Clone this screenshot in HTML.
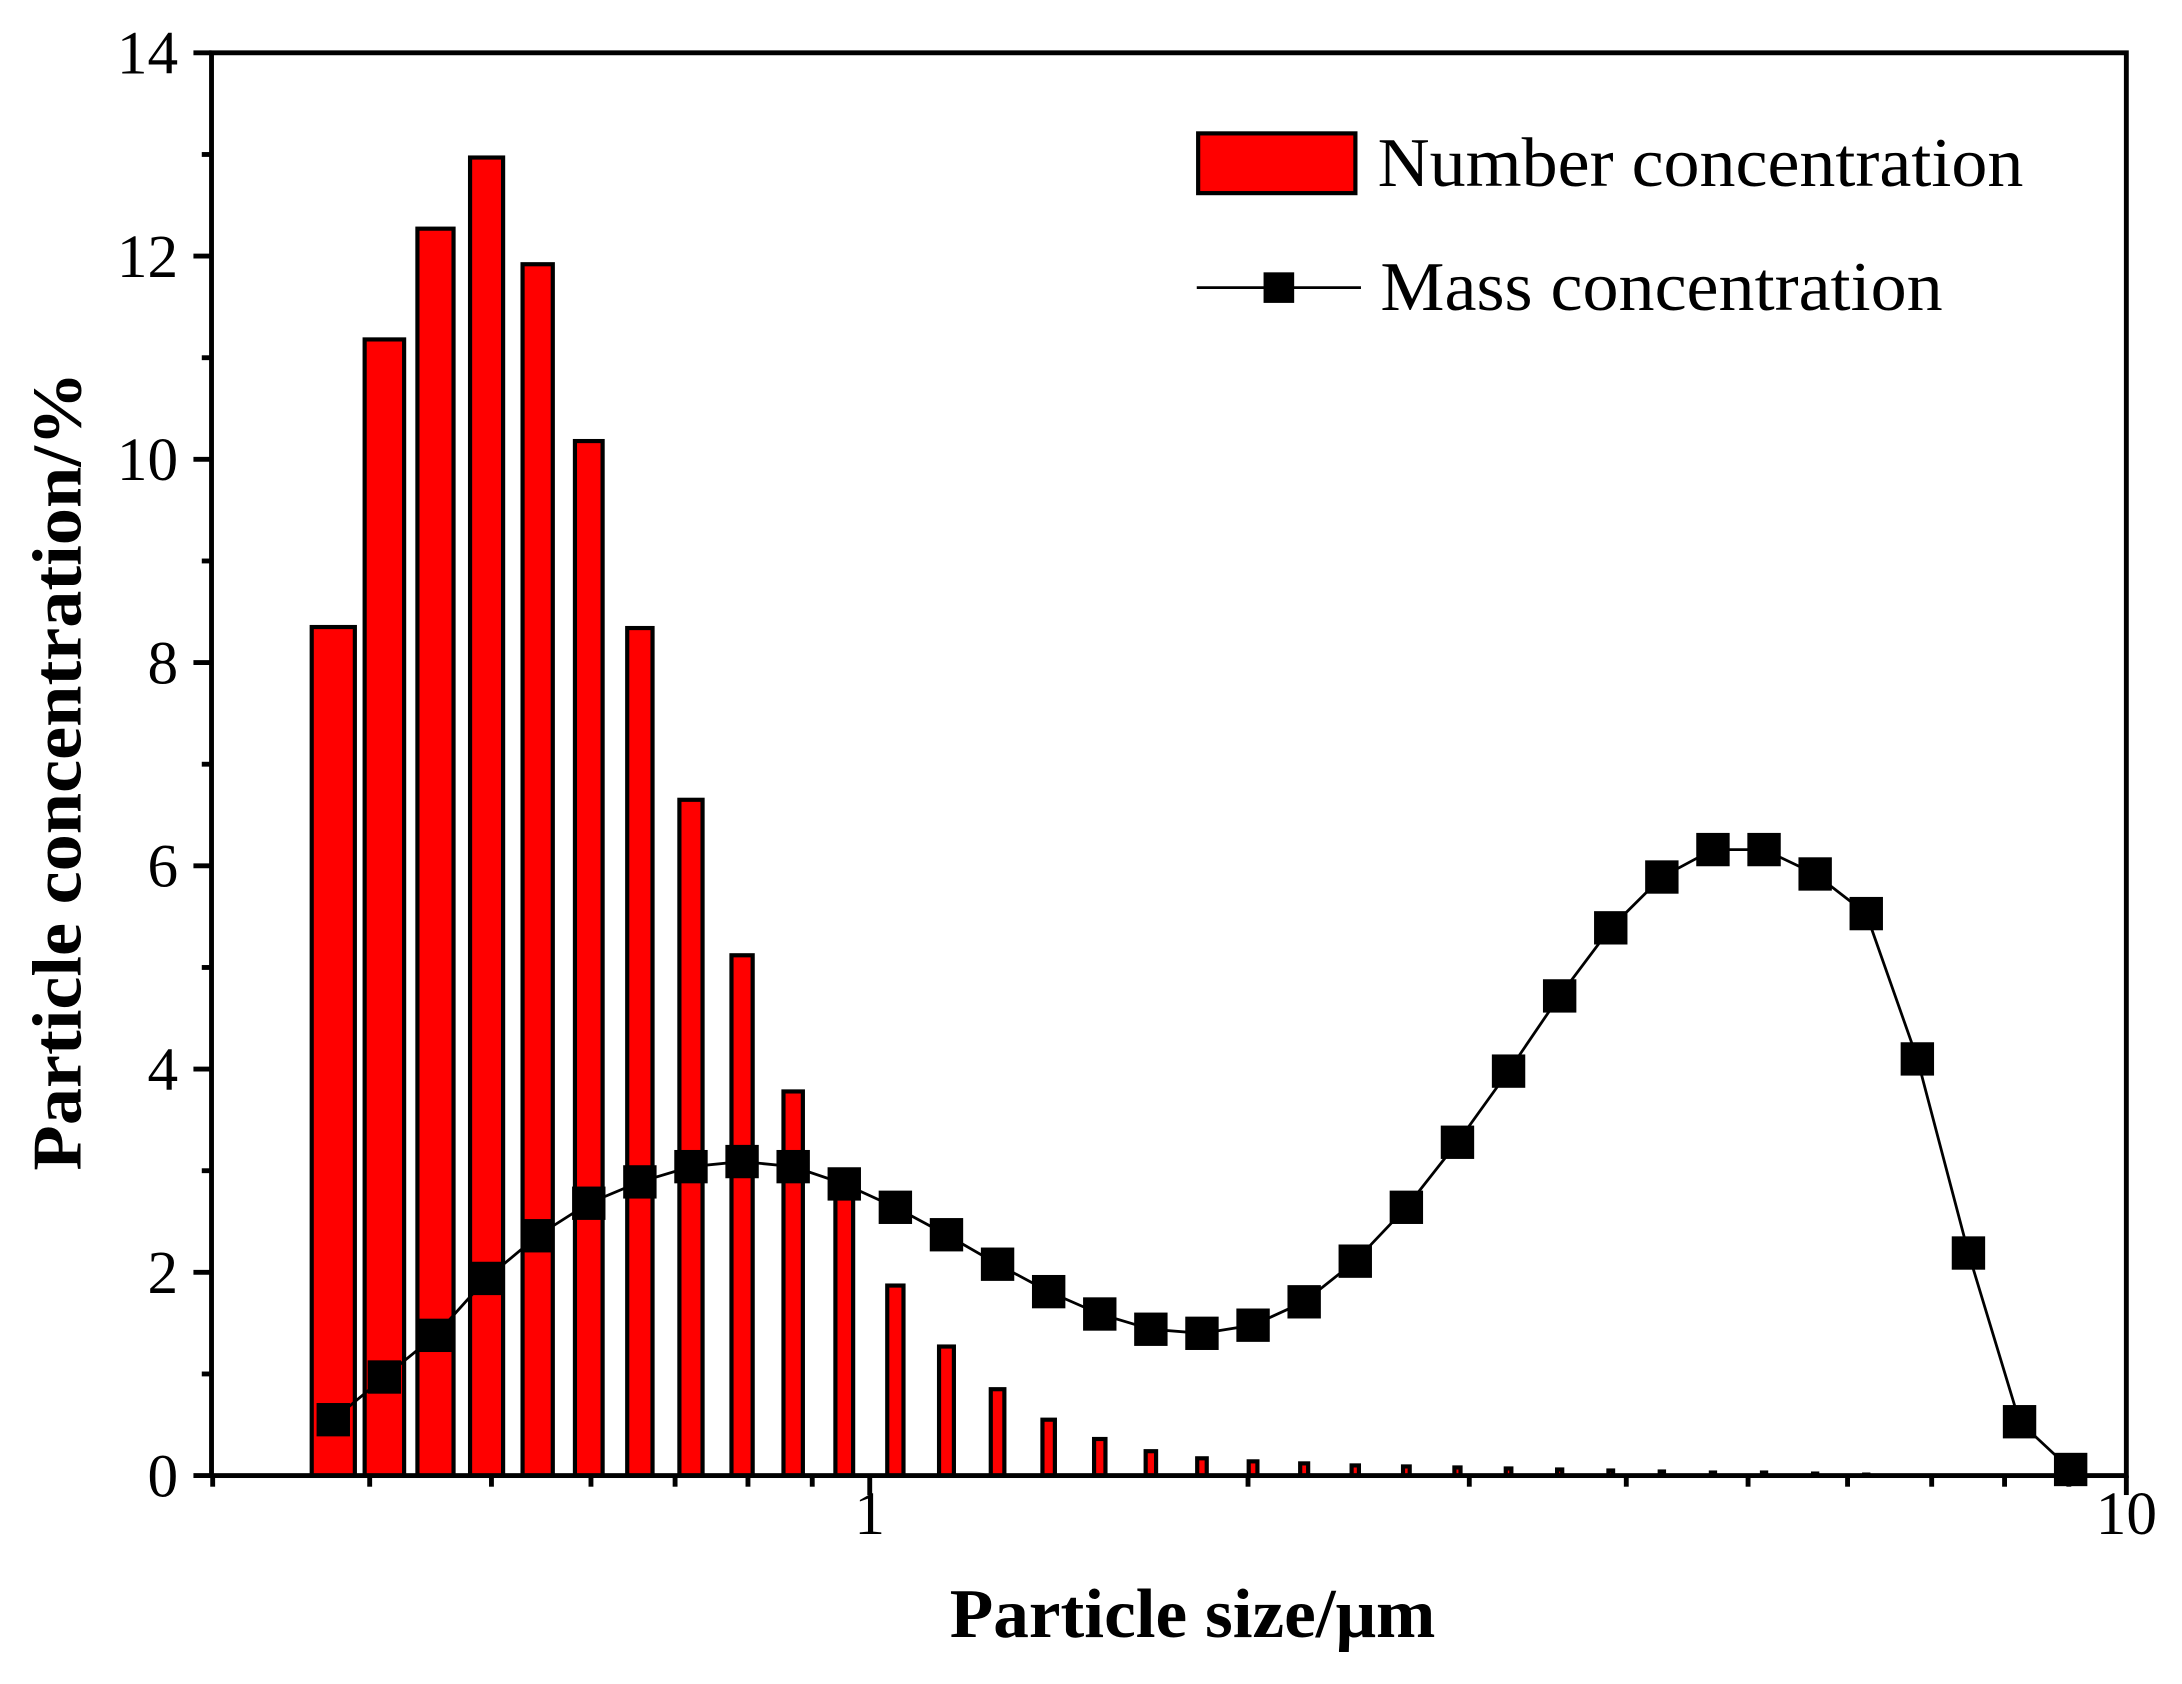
<!DOCTYPE html>
<html><head><meta charset="utf-8"><style>html,body{margin:0;padding:0;background:#fff}svg{display:block}</style></head>
<body>
<svg id="s" width="2182" height="1684" viewBox="0 0 1568 1212" preserveAspectRatio="none" xmlns="http://www.w3.org/2000/svg" font-family="'Liberation Serif', serif">
<g id="bars"></g>
<polyline id="ml" fill="none" stroke="#000" stroke-width="2"/>
<g id="mk"></g>
<g id="ax" stroke="#000" stroke-width="3.5" fill="none"></g>
<g id="lab" font-size="44" fill="#000"></g>
<text x="857" y="1178" font-size="50" font-weight="bold" text-anchor="middle" textLength="349" lengthAdjust="spacingAndGlyphs">Particle size/μm</text>
<text transform="translate(58,555) rotate(-90)" font-size="50" font-weight="bold" text-anchor="middle" textLength="575" lengthAdjust="spacingAndGlyphs">Particle concentration/%</text>
<rect x="861" y="96" width="113" height="43" fill="#ff0000" stroke="#000" stroke-width="3"/>
<text x="990" y="134" font-size="50" textLength="464" lengthAdjust="spacingAndGlyphs">Number concentration</text>
<line x1="860" y1="207" x2="978" y2="207" stroke="#000" stroke-width="2"/>
<rect x="908" y="196" width="22" height="22" fill="#000"/>
<text x="992" y="223" font-size="50" textLength="404" lengthAdjust="spacingAndGlyphs">Mass concentration</text>
</svg>
<script>
var NS="http://www.w3.org/2000/svg";
function el(p,t,a){var e=document.createElementNS(NS,t);for(var k in a)e.setAttribute(k,a[k]);document.getElementById(p).appendChild(e);return e;}
var Y0=1062,PY=73.14;
function Y(v){return Y0-v*PY;}
var num=[8.35,11.18,12.27,12.97,11.92,10.18,8.34,6.65,5.12,3.78,2.85,1.87,1.27,0.85,0.55,0.36,0.24,0.17,0.14,0.12,0.10,0.09,0.08,0.07,0.06,0.05,0.04,0.03,0.03,0.02,0.01,0,0,0,0];
var mass=[0.55,0.97,1.38,1.94,2.36,2.68,2.89,3.04,3.09,3.04,2.87,2.64,2.37,2.08,1.81,1.59,1.44,1.40,1.48,1.71,2.11,2.64,3.28,3.98,4.72,5.39,5.89,6.16,6.16,5.92,5.53,4.10,2.19,0.53,0.06];
var pts=[];
for(var i=0;i<35;i++){
 var c=239.5+36.72*i;
 if(num[i]>0){var w=Math.max(3,31*Math.pow(0.915,i));
  el("bars","rect",{x:c-w/2,y:Y(num[i]),width:w,height:num[i]*PY,fill:"#ff0000",stroke:"#000","stroke-width":3});}
 pts.push(c+","+Y(mass[i]));
 el("mk","rect",{x:c-12,y:Y(mass[i])-12,width:24,height:24,fill:"#000"});
}
document.getElementById("ml").setAttribute("points",pts.join(" "));
el("ax","rect",{x:152,y:38,width:1376,height:1024});
for(var v=0;v<=14;v++){var y=Y(v);var L=(v%2==0)?13:7;el("ax","line",{x1:152-L,y1:y,x2:152,y2:y});
 if(v%2==0){var t=el("lab","text",{x:128,y:y+15,"text-anchor":"end"});t.textContent=v;}}
function X(d){return 625+903*Math.log10(d);}
var ds=[0.3,0.4,0.5,0.6,0.7,0.8,0.9,1,2,3,4,5,6,7,8,9,10];
ds.forEach(function(d){var x=X(d);var L=(d==1||d==10)?14:8;el("ax","line",{x1:x,y1:1062,x2:x,y2:1062+L});});
var t1=el("lab","text",{x:625,y:1104,"text-anchor":"middle"});t1.textContent="1";
var t2=el("lab","text",{x:1528,y:1104,"text-anchor":"middle"});t2.textContent="10";
</script>
</body></html>
